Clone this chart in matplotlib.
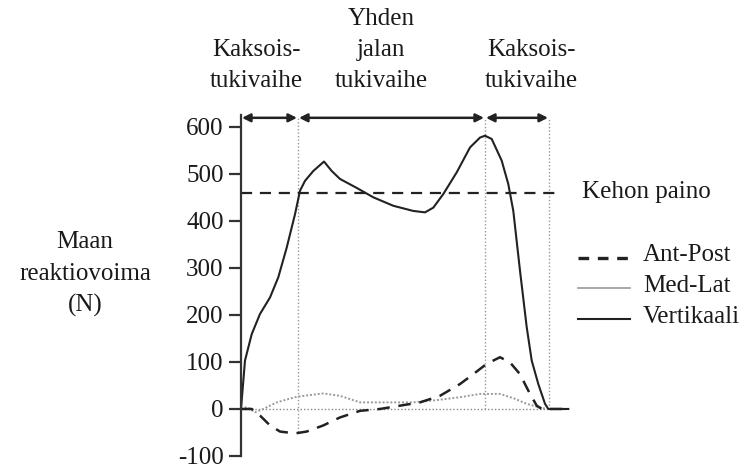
import matplotlib
matplotlib.use("Agg")
import matplotlib.pyplot as plt

# time axis in arbitrary units (0..330)
vert_t = [0, 4, 10.7, 19, 29, 37.3, 45.7, 54, 59, 64, 72.3, 83, 90.7, 99, 115.7, 132.3,
          152.3, 172.3, 184, 192.3, 202.3, 215.7, 229, 239, 244, 250.7, 260.7, 267.3,
          272.3, 279, 285.7, 290.7, 297.3, 304, 307.3, 327.3]
vert_v = [0, 103, 159, 202, 237, 280, 343, 414, 464, 485, 506, 526, 506, 489, 470, 450,
          432, 421, 418, 428, 457, 503, 556, 577, 581, 574, 528, 478,
          421, 294, 174, 103, 53, 11, 0, 0]

ap_t = [0, 10.7, 19, 29, 39, 54, 65.7, 82.3, 99, 119, 139, 159, 179, 199, 219, 232.3,
        245.7, 259, 269, 279, 287.3, 295.7, 302.3, 307.3, 327.3]
ap_v = [0, 0, -14, -35, -48, -52, -48, -35, -18, -4, 0, 7, 14, 28, 53, 74,
        96, 110, 99, 74, 39, 7, -2, 0, 0]

ml_t = [0, 6, 14, 22.3, 35.7, 55.7, 82.3, 99, 119, 139, 172.3, 192.3, 219, 239, 259,
        272.3, 285.7, 297.3, 305.7, 327.3]
ml_v = [0, 4, -7, 0, 14, 26, 33, 28, 14, 14, 14, 18, 25, 32, 32,
        23, 11, 4, 0, 0]

body_weight = 460
phase_bounds = [0, 57, 244, 308]
phase_labels = [["Kaksois-", "tukivaihe"], ["Yhden", "jalan", "tukivaihe"], ["Kaksois-", "tukivaihe"]]
yticks = [-100, 0, 100, 200, 300, 400, 500, 600]
ylabel_lines = ["Maan", "reaktiovoima", "(N)"]
legend_labels = ["Ant-Post", "Med-Lat", "Vertikaali"]

plt.rcParams['font.family'] = ['Liberation Serif', 'DejaVu Serif']
FS = 18
TC = '#1a1a1a'

fig = plt.figure(figsize=(7.53, 4.68), dpi=100)
ax = fig.add_axes([241/753, 1-456/468, 330/753, (456-115)/468])
ax.set_xlim(0, 330)
ax.set_ylim(-100, 625)

for s in ['top', 'right', 'bottom']:
    ax.spines[s].set_visible(False)
ax.spines['left'].set_bounds(-100, 625)
ax.spines['left'].set_linewidth(1.6)
ax.spines['left'].set_color('#333333')
ax.set_xticks([])
ax.set_yticks(yticks)
ax.set_yticklabels([str(v) for v in yticks], fontsize=FS, color=TC)
ax.tick_params(axis='y', length=8.5, width=1.6, color='#333333', pad=4)

# guide lines
ax.plot([0, 327], [0, 0], color='#888888', lw=1.0, ls=(0, (1, 1.5)))
for xb in phase_bounds[1:]:
    ax.plot([xb, xb], [-50 if xb == phase_bounds[1] else 0, 618], color='#999999', lw=1.0, ls=(0, (1, 1.5)))
ax.plot([0, 314], [body_weight, body_weight], color='#222222', lw=1.6, ls=(0, (5, 3.5)))

# curves
ax.plot(ml_t, ml_v, color='#9a9a9a', lw=1.4, ls=(0, (1, 1)))
ax.plot(ap_t, ap_v, color='#222222', lw=1.8, ls=(0, (5, 3.5)))
ax.plot(vert_t, vert_v, color='#222222', lw=1.5)

# phase arrows
ya = 619
for a, b in zip(phase_bounds[:-1], phase_bounds[1:]):
    ax.annotate('', xy=(a + 1, ya), xytext=(b - 1, ya),
                arrowprops=dict(arrowstyle='<|-|>', color='#222222', lw=1.8,
                                mutation_scale=12, shrinkA=0, shrinkB=0))

def ftext(x, y, s, **kw):
    fig.text(x/753, 1-y/468, s, fontsize=FS, color=TC, **kw)

# phase labels (baselines in figure pixels)
for lines, cx in zip(phase_labels, [256, 381, 531]):
    bases = [24.7, 55.7, 86.7][-len(lines):]
    for s, yb in zip(lines, bases):
        ftext(cx, yb, s, ha='center', va='baseline')

# y label
for s, yb in zip(ylabel_lines, [248, 280, 312]):
    ftext(85, yb, s, ha='center', va='baseline')

ftext(582, 198, "Kehon paino", ha='left', va='baseline')

# legend
leg_line_y = [258.3, 287.7, 319]
leg_base_y = [261, 292, 323]
styles = [dict(color='#222222', lw=2.4, ls=(0, (3.2, 2.6))),
          dict(color='#9a9a9a', lw=1.2, ls='-'),
          dict(color='#222222', lw=1.5, ls='-')]
for yl, yb, lab, st in zip(leg_line_y, leg_base_y, legend_labels, styles):
    fig.add_artist(plt.Line2D([578/753, 630/753], [1-yl/468, 1-yl/468], **st))
    ftext(643, yb, lab, ha='left', va='baseline')

fig.savefig('out.png', dpi=100)
